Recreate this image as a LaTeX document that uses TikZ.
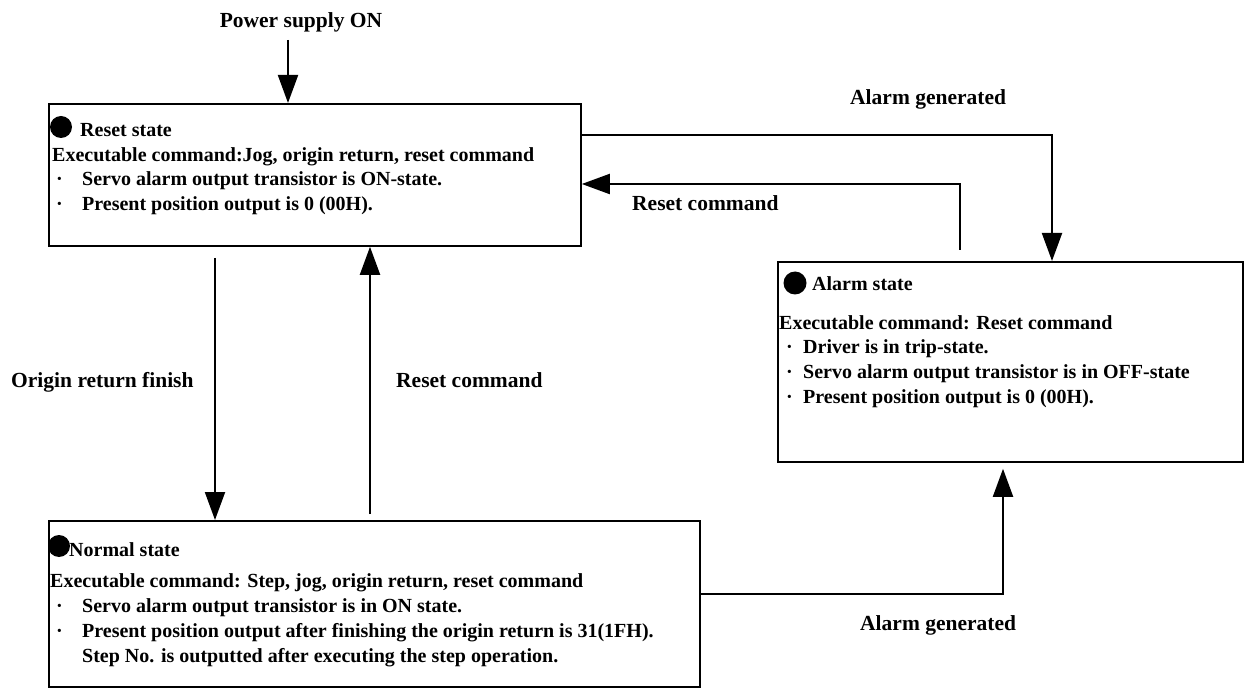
\documentclass[tikz,border=0pt]{standalone}
\usepackage{fontspec}
\setmainfont{Liberation Serif}
\usetikzlibrary{arrows.meta,calc}
\begin{document}
\begin{tikzpicture}[x=1pt,y=-1pt,
  box/.style={draw,line width=1.8pt,inner sep=0pt,anchor=north west},
  arr/.style={line width=2pt,-{Triangle[length=28pt,width=20pt]}},
  bt/.style={anchor=base west,inner sep=0pt,font=\fontsize{20}{24}\selectfont\bfseries},
  lbl/.style={anchor=base west,inner sep=0pt,font=\fontsize{21.5}{26}\selectfont\bfseries},
  dotb/.style={fill=black,circle,inner sep=0pt}]
\useasboundingbox (0,0) rectangle (1245,692);
% boxes
\node[box,minimum width=532pt,minimum height=142pt] (reset) at (48,103) {};
\node[box,minimum width=465pt,minimum height=200pt] (alarm) at (777,261) {};
\node[box,minimum width=651pt,minimum height=166pt] (normal) at (48,520) {};
% reset box text
\node[dotb,minimum size=22pt] (rb) at (61,127) {};
\node[bt] (r1) at (80,137) {Reset state};
\node[bt] (r2) at (52,162) {Executable command:Jog, origin return, reset command};
\node[bt] (r3) at (56,186) {\makebox[26pt][l]{·}Servo alarm output transistor is ON-state.};
\node[bt] (r4) at (56,211) {\makebox[26pt][l]{·}Present position output is 0 (00H).};
% alarm box text
\node[dotb,minimum size=23pt] (ab) at (795,283) {};
\node[bt] (a1) at (812,291) {Alarm state};
\node[bt] (a2) at (779,330) {Executable command: Reset command};
\node[bt] (a3) at (786,354) {\makebox[17pt][l]{·}Driver is in trip-state.};
\node[bt] (a4) at (786,379) {\makebox[17pt][l]{·}Servo alarm output transistor is in OFF-state};
\node[bt] (a5) at (786,403) {\makebox[17pt][l]{·}Present position output is 0 (00H).};
% normal box text
\node[dotb,minimum size=22pt] (nb) at (59,546) {};
\node[bt] (n1) at (69,556) {Normal state};
\node[bt] (n2) at (50,587) {Executable command: Step, jog, origin return, reset command};
\node[bt] (n3) at (56,612) {\makebox[26pt][l]{·}Servo alarm output transistor is in ON state.};
\node[bt] (n4) at (56,637) {\makebox[26pt][l]{·}Present position output after finishing the origin return is 31(1FH).};
\node[bt] (n5) at (82,662) {Step No. is outputted after executing the step operation.};
% labels
\node[anchor=base,inner sep=0pt,font=\fontsize{21.5}{26}\selectfont\bfseries] (lp) at (301,28) {Power supply ON};
\node[lbl] (l1) at (850,105) {Alarm generated};
\node[lbl] (l2) at (632,211) {Reset command};
\node[lbl] (l3) at (11,388) {Origin return finish};
\node[lbl] (l4) at (396,388) {Reset command};
\node[lbl] (l5) at (860,630) {Alarm generated};
% connectors
\coordinate (pwr) at (288,40);
\coordinate (ag) at (1052,135);
\coordinate (rc) at (960,184);
\coordinate (orf) at (215,300);
\coordinate (rcu) at (370,300);
\coordinate (agb) at (1003,594);
\draw[arr] (pwr) -- (reset.north -| pwr);
\draw[arr] (reset.east |- ag) -| (alarm.north -| ag);
\draw[arr,shorten <=11pt] (alarm.north -| rc) |- (reset.east |- rc);
\draw[arr,shorten <=11pt] (reset.south -| orf) -- (normal.north -| orf);
\draw[arr,shorten <=6pt] (normal.north -| rcu) -- (reset.south -| rcu);
\draw[arr,shorten >=6pt] (normal.east |- agb) -| (alarm.south -| agb);
\end{tikzpicture}
\end{document}
